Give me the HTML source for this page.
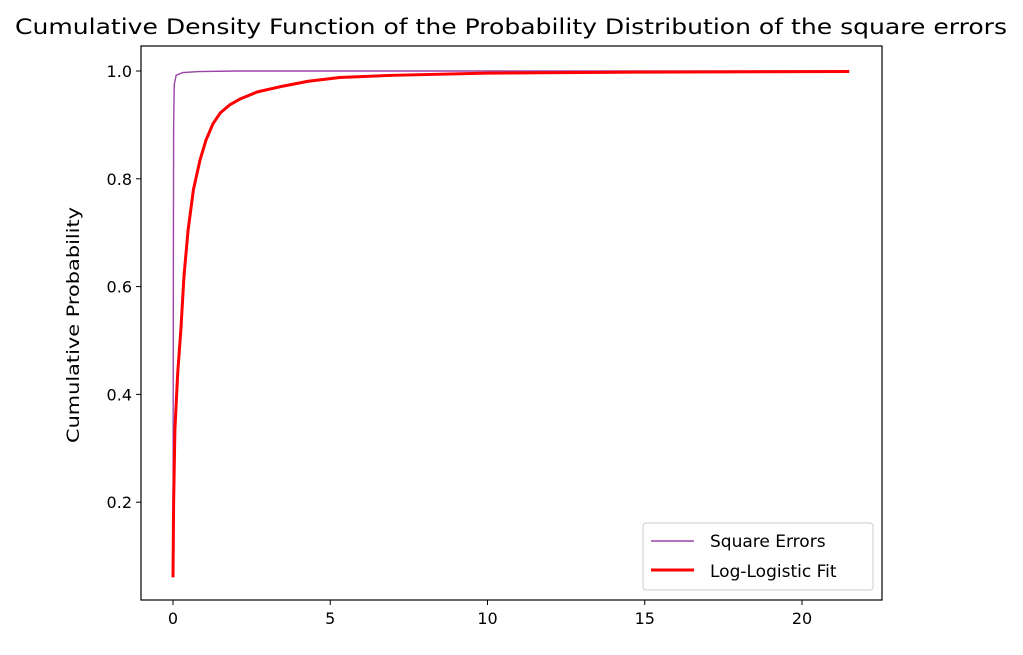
<!DOCTYPE html>
<html><head><meta charset="utf-8"><style>
body{margin:0;background:#fff;}
text{font-family:"DejaVu Sans","Liberation Sans",sans-serif;fill:#000;}
</style></head><body>
<svg id="chart" width="1023" height="650" viewBox="0 0 1023 650" xmlns="http://www.w3.org/2000/svg">
<rect width="1023" height="650" fill="#fff"/>
<text x="511" y="34" font-size="21" text-anchor="middle" textLength="992" lengthAdjust="spacingAndGlyphs">Cumulative Density Function of the Probability Distribution of the square errors</text>
<text transform="translate(79,325) rotate(-90)" font-size="17" text-anchor="middle" textLength="236" lengthAdjust="spacingAndGlyphs">Cumulative Probability</text>
<g id="ticks"></g>
<g id="series"></g>
<rect x="141" y="46" width="741" height="554" fill="none" stroke="#000" stroke-width="1.2"/>
<g>
<rect x="643" y="523" width="230" height="67" rx="3" fill="#fff" stroke="#ccc" stroke-width="1"/>
<line x1="651" y1="541" x2="694" y2="541" stroke="#9b45a8" stroke-width="1.4"/>
<text x="710" y="547" font-size="17">Square Errors</text>
<line x1="651" y1="570" x2="694" y2="570" stroke="#ff0000" stroke-width="3"/>
<text x="710" y="577" font-size="17">Log-Logistic Fit</text>
</g>
</svg>
<script>
const xTicks=[0,5,10,15,20];
const yTicks=[0.2,0.4,0.6,0.8,1.0];
const errX=[0,0.005,0.01,0.02,0.04,0.1,0.3,0.8,2,5,10,21.5];
const errY=[0.06,0.3,0.6,0.9,0.975,0.992,0.997,0.999,1.0,1.0,1.0,1.0];
const fitX=[0,0.02,0.06,0.15,0.25,0.35,0.48,0.65,0.86,1.05,1.27,1.5,1.8,2.13,2.67,3.5,4.3,5.3,7,10,15,21.5];
const fitY=[0.061,0.2,0.334,0.44,0.52,0.62,0.705,0.78,0.835,0.872,0.902,0.922,0.937,0.948,0.961,0.972,0.981,0.988,0.992,0.996,0.998,0.999];
const sx=v=>173+v*31.45;
const sy=v=>610-v*539;
const NS="http://www.w3.org/2000/svg";
const tg=document.getElementById('ticks');
xTicks.forEach(t=>{
 const l=document.createElementNS(NS,'line');
 l.setAttribute('x1',sx(t));l.setAttribute('x2',sx(t));l.setAttribute('y1',600);l.setAttribute('y2',605);l.setAttribute('stroke','#000');
 
 
 tg.appendChild(l);
 const tx=document.createElementNS(NS,'text');
 tx.setAttribute('x',sx(t));tx.setAttribute('y',624);tx.setAttribute('font-size','16');tx.setAttribute('text-anchor','middle');
 tx.textContent=t;
 
 
 tg.appendChild(tx);
});
yTicks.forEach(t=>{
 const l=document.createElementNS(NS,'line');
 l.setAttribute('x1',136);l.setAttribute('x2',141);l.setAttribute('y1',sy(t));l.setAttribute('y2',sy(t));l.setAttribute('stroke','#000');
 
 
 tg.appendChild(l);
 const tx=document.createElementNS(NS,'text');
 tx.setAttribute('x',132);tx.setAttribute('y',sy(t)+6);tx.setAttribute('font-size','16');tx.setAttribute('text-anchor','end');
 tx.textContent=t.toFixed(1);
 
 
 tg.appendChild(tx);
});
const sg=document.getElementById('series');
function path(xs,ys,color,w,name){
 const p=document.createElementNS(NS,'polyline');
 p.setAttribute('points',xs.map((x,i)=>sx(x)+','+sy(ys[i])).join(' '));
 p.setAttribute('fill','none');p.setAttribute('stroke',color);p.setAttribute('stroke-width',w);p.setAttribute('stroke-linejoin','round');
 
 
 sg.appendChild(p);
}
path(errX,errY,'#9b45a8',1.4,'square-errors-line');
path(fitX,fitY,'#ff0000',3,'log-logistic-fit-line');
</script>
</body></html>
